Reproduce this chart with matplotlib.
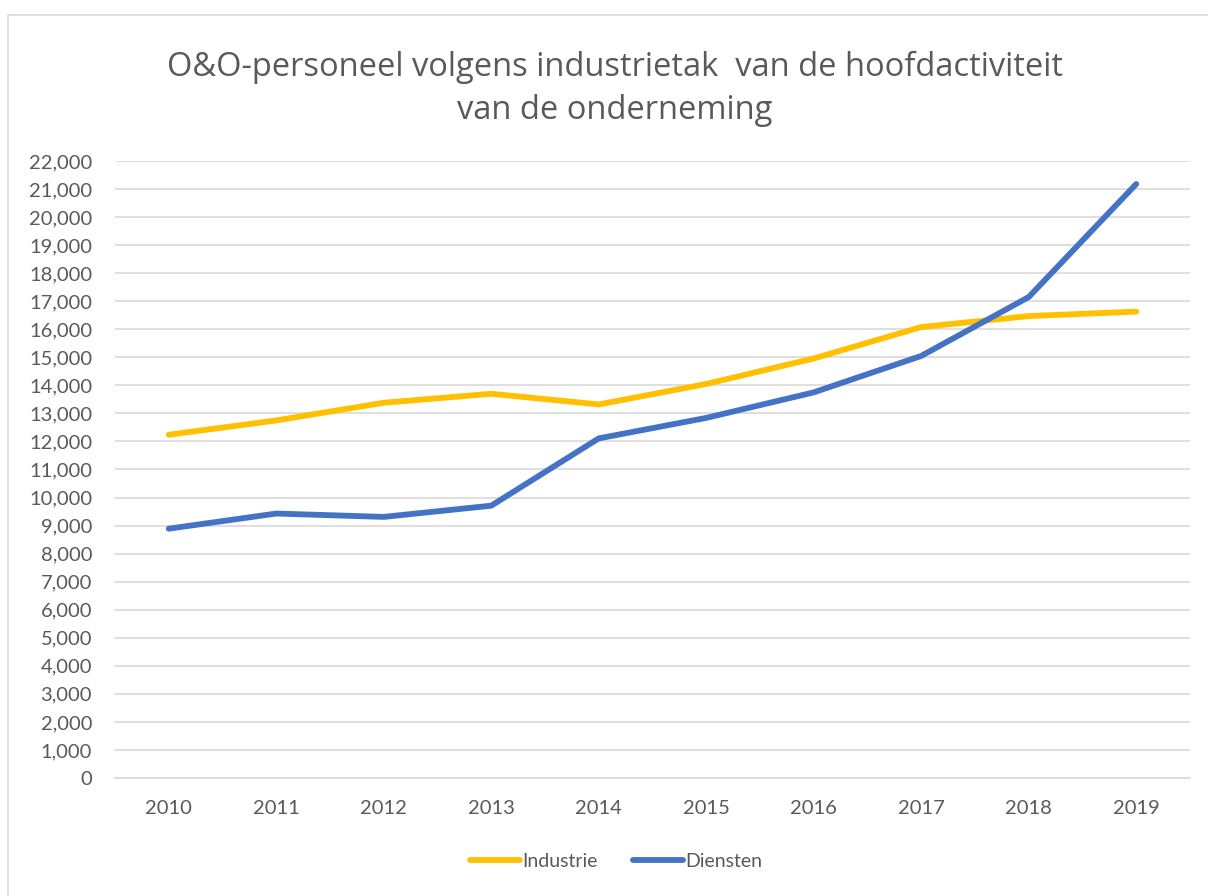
import matplotlib
matplotlib.use("Agg")
import matplotlib.pyplot as plt
from matplotlib.patches import Rectangle

# jaren en waarden
jaren = ["2010", "2011", "2012", "2013", "2014", "2015", "2016", "2017", "2018", "2019"]
industrie = [12240, 12750, 13380, 13700, 13320, 14050, 14960, 16080, 16470, 16630]
diensten = [8890, 9430, 9310, 9710, 12110, 12840, 13750, 15050, 17150, 21180]
yticks = list(range(0, 22001, 1000))

tekstkleur = "#595959"
plt.rcParams["font.family"] = ["Lato", "DejaVu Sans"]

fig = plt.figure(figsize=(12.08, 8.96), dpi=100)
# grijze kader rond de grafiek
fig.patches.append(Rectangle((8 / 1208, -0.1), 1.2, 1 - 15 / 896 + 0.1,
                             transform=fig.transFigure, fill=False,
                             edgecolor="#d9d9d9", linewidth=1.2))

ax = fig.add_axes([115 / 1208, 1 - 778 / 896, (1190 - 115) / 1208, (778 - 161) / 896])
x = list(range(len(jaren)))
ax.plot(x, industrie, color="#ffc000", linewidth=4.2, solid_capstyle="round",
        solid_joinstyle="round", label="Industrie")
ax.plot(x, diensten, color="#4472c4", linewidth=4.2, solid_capstyle="round",
        solid_joinstyle="round", label="Diensten")

ax.set_xlim(-0.5, len(jaren) - 0.5)
ax.set_ylim(0, 22000)
ax.set_yticks(yticks)
ax.set_yticklabels([f"{v:,}" for v in yticks])
ax.set_xticks(x)
ax.set_xticklabels(jaren)
ax.grid(axis="y", color="#d9d9d9", linewidth=1.2)
ax.set_axisbelow(True)
for s in ["top", "right", "left"]:
    ax.spines[s].set_visible(False)
ax.spines["bottom"].set_color("#d9d9d9")
ax.spines["bottom"].set_linewidth(1.2)
ax.tick_params(length=0, labelsize=14.5, colors=tekstkleur)
ax.tick_params(axis="y", pad=16.5)
ax.tick_params(axis="x", pad=16)

fig.text(0.509, 1 - 89 / 896, "O&O-personeel volgens industrietak  van de hoofdactiviteit\nvan de onderneming",
         ha="center", va="center", fontsize=23.5, color=tekstkleur,
         family=["Open Sans", "DejaVu Sans"], linespacing=1.4)

leg = fig.legend(loc="center", bbox_to_anchor=(0.51, 1 - 861 / 896), ncol=2, frameon=False,
                 fontsize=14, handlelength=2.6, handletextpad=0.1, columnspacing=1.8)
for t in leg.get_texts():
    t.set_color(tekstkleur)

fig.savefig("out.png", dpi=100, facecolor="white")
